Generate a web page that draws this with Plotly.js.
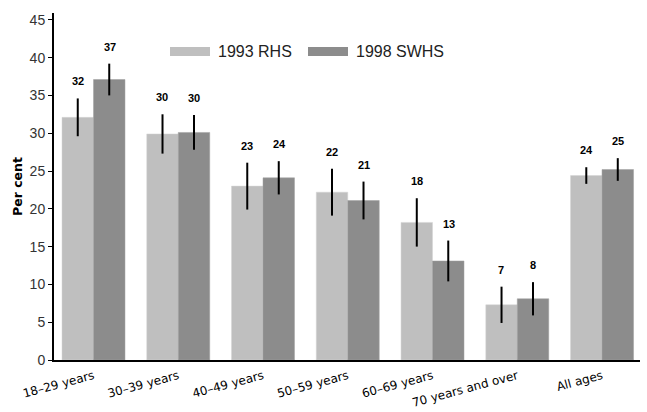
<!DOCTYPE html>
<html>
<head>
<meta charset="utf-8">
<script src="https://cdn.plot.ly/plotly-3.0.1.min.js"></script>
<style>html,body{margin:0;padding:0;background:#fff;}#chart{width:647px;height:412px;}</style>
</head>
<body>
<div id="chart"></div>
<script>
const categories = ["18\u201329 years", "30\u201339 years", "40\u201349 years", "50\u201359 years", "60\u201369 years", "70 years and over", "All ages"];
const seriesNames = ["1993 RHS", "1998 SWHS"];
const values1993 = [32.1, 29.9, 23.0, 22.2, 18.2, 7.3, 24.4];
const values1998 = [37.1, 30.1, 24.1, 21.1, 13.1, 8.1, 25.2];
const err1993 = [2.5, 2.6, 3.1, 3.1, 3.2, 2.4, 1.1];
const err1998 = [2.1, 2.3, 2.2, 2.5, 2.7, 2.2, 1.5];
const labels1993 = ["32", "30", "23", "22", "18", "7", "24"];
const labels1998 = ["37", "30", "24", "21", "13", "8", "25"];
const colors = ["#bfbfbf", "#8c8c8c"];

const traces = [
  {type: "bar", name: seriesNames[0], x: categories, y: values1993,
   marker: {color: colors[0], line: {color: "#d4d4d4", width: 0.5}},
   error_y: {type: "data", array: err1993, visible: true, color: "#000", thickness: 2, width: 0},
   showlegend: false, hoverinfo: "none"},
  {type: "bar", name: seriesNames[1], x: categories, y: values1998,
   marker: {color: colors[1], line: {color: "#a0a0a0", width: 0.5}},
   error_y: {type: "data", array: err1998, visible: true, color: "#000", thickness: 2, width: 0},
   showlegend: false, hoverinfo: "none"}
];

const annotations = [];
const labelFont = {family: "Liberation Sans, Arial, sans-serif", size: 11, color: "#000"};
categories.forEach((c, i) => {
  annotations.push({x: c, y: values1993[i] + err1993[i], xref: "x", yref: "y", text: "<b>" + labels1993[i] + "</b>",
    showarrow: false, yanchor: "bottom", yshift: 9, xshift: -16, font: labelFont});
  annotations.push({x: c, y: values1998[i] + err1998[i], xref: "x", yref: "y", text: "<b>" + labels1998[i] + "</b>",
    showarrow: false, yanchor: "bottom", yshift: 9, xshift: 16, font: labelFont});
});

// legend drawn as layout items
const legendFont = {family: "Liberation Sans, Arial, sans-serif", size: 16, color: "#222"};
const shapes = [
  {type: "rect", xref: "paper", yref: "paper", x0: (170-54)/586, x1: (210-54)/586, y0: (360-56)/347, y1: (360-47)/347,
   fillcolor: colors[0], line: {width: 0}},
  {type: "rect", xref: "paper", yref: "paper", x0: (308-54)/586, x1: (348-54)/586, y0: (360-56)/347, y1: (360-47)/347,
   fillcolor: colors[1], line: {width: 0}}
];
annotations.push({xref: "paper", yref: "paper", x: (216-54)/586, y: (360-51.5)/347, xanchor: "left", yanchor: "middle",
  text: seriesNames[0], showarrow: false, font: legendFont});
annotations.push({xref: "paper", yref: "paper", x: (354-54)/586, y: (360-51.5)/347, xanchor: "left", yanchor: "middle",
  text: seriesNames[1], showarrow: false, font: legendFont});

const layout = {
  width: 647, height: 412,
  margin: {l: 54, r: 7, t: 13, b: 52},
  paper_bgcolor: "#fff", plot_bgcolor: "#fff",
  barmode: "group", bargap: 0.257, bargroupgap: 0,
  showlegend: false,
  xaxis: {
    type: "category", range: [-0.466, 6.448],
    showline: true, linecolor: "#000", linewidth: 1.5,
    ticks: "", tickangle: -15, ticklabelstandoff: 3,
    tickfont: {family: "DejaVu Sans, Verdana, sans-serif", size: 12, color: "#000"},
    showgrid: false, zeroline: false, fixedrange: true
  },
  yaxis: {
    range: [0, 45.9], tickvals: [0,5,10,15,20,25,30,35,40,45],
    showline: true, linecolor: "#000", linewidth: 2,
    ticks: "outside", ticklen: 4, tickcolor: "#000", tickwidth: 1,
    tickfont: {family: "Liberation Sans, Arial, sans-serif", size: 14, color: "#333"},
    showgrid: false, zeroline: false,
    title: {text: "<b>Per cent</b>", font: {family: "DejaVu Sans, Verdana, sans-serif", size: 12.5, color: "#000"}, standoff: 4}
  },
  shapes: shapes,
  annotations: annotations
};

Plotly.newPlot("chart", traces, layout, {staticPlot: true, displayModeBar: false});
</script>
</body>
</html>
